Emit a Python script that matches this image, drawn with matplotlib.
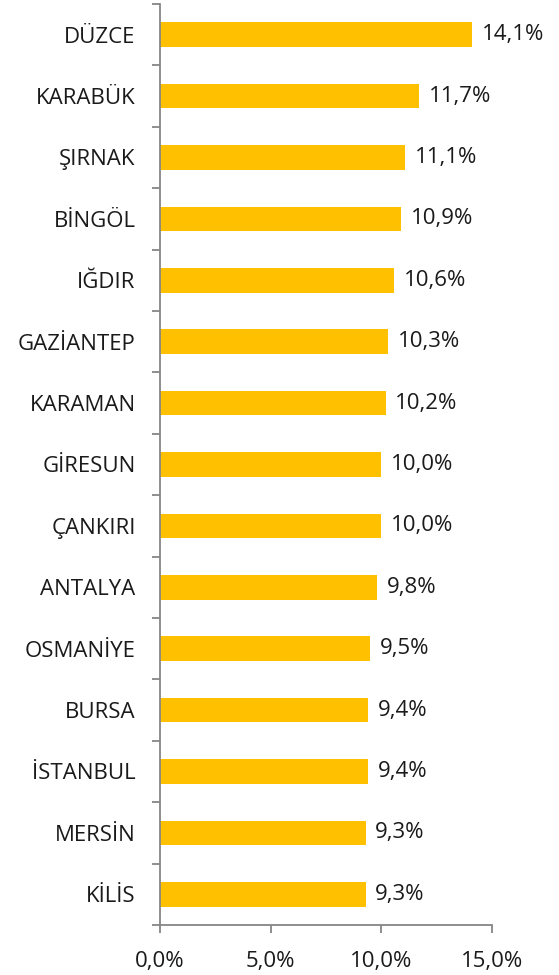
import matplotlib.pyplot as plt
import numpy as np
from matplotlib.ticker import FixedLocator

cities = ['DÜZCE', 'KARABÜK', 'ŞIRNAK', 'BİNGÖL', 'IĞDIR', 'GAZİANTEP', 'KARAMAN',
          'GİRESUN', 'ÇANKIRI', 'ANTALYA', 'OSMANİYE', 'BURSA', 'İSTANBUL',
          'MERSİN', 'KİLİS']
values = [14.1, 11.7, 11.1, 10.9, 10.6, 10.3, 10.2, 10.0, 10.0, 9.8, 9.5, 9.4, 9.4, 9.3, 9.3]
x_ticks = [0, 5, 10, 15]

plt.rcParams['font.family'] = ['Open Sans', 'DejaVu Sans']
FS = 16

fig = plt.figure(figsize=(5.59, 9.75), dpi=100)
ax = fig.add_axes([0.2862, 0.0513, 0.8796 - 0.2862, 0.9959 - 0.0513])

n = len(cities)
y = np.arange(n)[::-1]
ax.barh(y, values, height=0.4, color='#FFC000')

for yi, v in zip(y, values):
    ax.annotate(f'{v:.1f}%'.replace('.', ','), (v, yi), xytext=(7, 0),
                textcoords='offset points', va='center', ha='left',
                fontsize=FS, color='#1a1a1a')

ax.set_xlim(0, 15)
ax.set_ylim(-0.5, n - 0.5)
ax.set_xticks(x_ticks)
ax.set_xticklabels([f'{t:.1f}%'.replace('.', ',') for t in x_ticks], fontsize=FS, color='#1a1a1a')
ax.set_yticks(y)
ax.set_yticklabels(cities, fontsize=FS, color='#1a1a1a')
ax.yaxis.set_minor_locator(FixedLocator(np.arange(n + 1) - 0.5))

for s in ['top', 'right']:
    ax.spines[s].set_visible(False)
for s in ['left', 'bottom']:
    ax.spines[s].set_color('#868686')
    ax.spines[s].set_linewidth(1.3)

ax.tick_params(axis='y', which='major', length=0, pad=17.5)
ax.tick_params(axis='y', which='minor', length=6, width=1.3, color='#868686')
ax.tick_params(axis='x', length=6, width=1.3, color='#868686', pad=13)

fig.savefig('out.png', dpi=100)
